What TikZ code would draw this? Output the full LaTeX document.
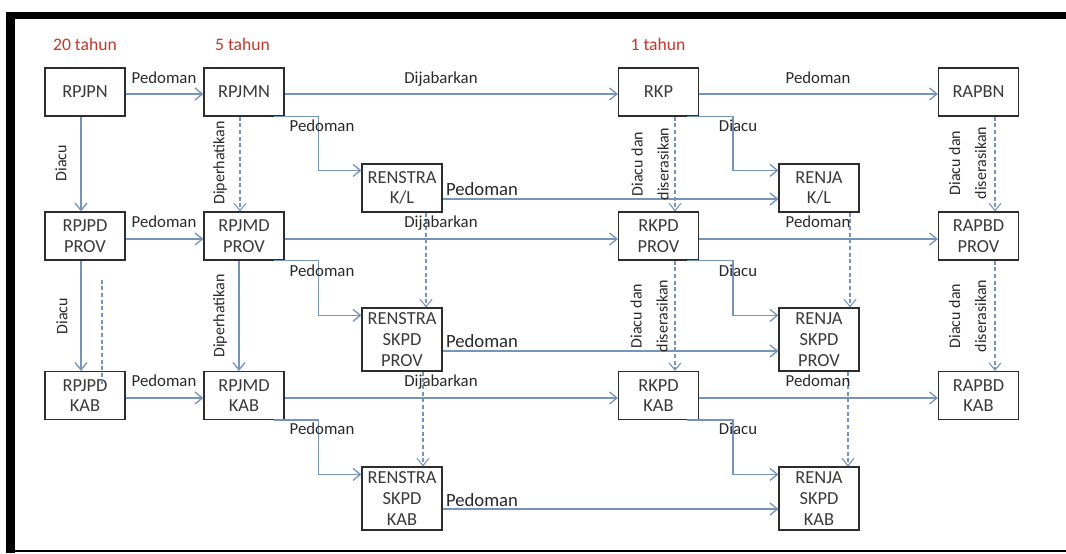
\documentclass[tikz,border=0pt]{standalone}
\usepackage{fontspec}
\setmainfont{Carlito}
\usetikzlibrary{arrows.meta,calc}
\definecolor{ln}{RGB}{118,148,184}
\definecolor{bx}{RGB}{45,45,45}
\definecolor{tx}{RGB}{58,58,58}
\definecolor{lb}{RGB}{40,40,40}
\definecolor{rd}{RGB}{192,57,43}
\begin{document}
\begin{tikzpicture}[x=0.75pt,y=-0.75pt,
 box/.style={draw=bx, line width=0.9pt, fill=white, minimum width=60pt, minimum height=36pt, inner sep=0pt, align=center, text=tx, font=\fontsize{13.8}{15.6}\selectfont},
 tall/.style={box, minimum height=47.25pt},
 conn/.style={draw=ln, line width=1pt, -{Straight Barb[length=5.5pt,width=9pt]}},
 dconn/.style={conn, dash pattern=on 3pt off 2pt, line width=0.8pt},
 lab/.style={inner sep=0pt, text=lb, font=\fontsize{12.6}{15}\selectfont},
 big/.style={lab, font=\fontsize{14}{16}\selectfont},
 rlab/.style={lab, rotate=90, align=center, font=\fontsize{12}{19.5}\selectfont},
 yr/.style={inner sep=0pt, text=rd, font=\fontsize{13.2}{15}\selectfont}]
\useasboundingbox (0,0) rectangle (1066,553);
% frame
\fill[black] (6,11.5) rectangle (1066,19);
\fill[black] (6,11.5) rectangle (14.5,553);
\fill[black] (6,550.3) rectangle (1066,552);
% period labels
\node[yr] (y20) at (85,44) {20 tahun};
\node[yr] (y5) at (242.5,44) {5 tahun};
\node[yr] (y1) at (658,44) {1 tahun};
% boxes
\node[box] (RPJPN) at (85,92) {RPJPN};
\node[box] (RPJMN) at (244,92) {RPJMN};
\node[box] (RKP) at (658.5,92) {RKP};
\node[box] (RAPBN) at (978.5,92) {RAPBN};
\node[box] (RENSTRAKL) at (402,188) {RENSTRA\\K/L};
\node[box] (RENJAKL) at (819,188) {RENJA\\K/L};
\node[box] (RPJPDPROV) at (85,236) {RPJPD\\PROV};
\node[box] (RPJMDPROV) at (244,236) {RPJMD\\PROV};
\node[box] (RKPDPROV) at (658.5,236) {RKPD\\PROV};
\node[box] (RAPBDPROV) at (978.5,236) {RAPBD\\PROV};
\node[tall] (RENSTRAPROV) at (402,339.5) {RENSTRA\\SKPD\\PROV};
\node[tall] (RENJAPROV) at (819,339.5) {RENJA\\SKPD\\PROV};
\node[box] (RPJPDKAB) at (85,395.5) {RPJPD\\KAB};
\node[box] (RPJMDKAB) at (244,395.5) {RPJMD\\KAB};
\node[box] (RKPDKAB) at (658.5,395.5) {RKPD\\KAB};
\node[box] (RAPBDKAB) at (978.5,395.5) {RAPBD\\KAB};
\node[tall] (RENSTRAKAB) at (402,498.5) {RENSTRA\\SKPD\\KAB};
\node[tall] (RENJAKAB) at (819,498.5) {RENJA\\SKPD\\KAB};
% horizontal connectors
\draw[conn] ($(RPJPN.east)+(0,2)$) -- ($(RPJMN.west)+(0,2)$);
\draw[conn] ($(RPJMN.east)+(0,2)$) -- ($(RKP.west)+(0,2)$);
\draw[conn] ($(RKP.east)+(0,2)$) -- ($(RAPBN.west)+(0,2)$);
\draw[conn] ($(RPJPDPROV.east)+(0,3)$) -- ($(RPJMDPROV.west)+(0,3)$);
\draw[conn] ($(RPJMDPROV.east)+(0,3)$) -- ($(RKPDPROV.west)+(0,3)$);
\draw[conn] ($(RKPDPROV.east)+(0,3)$) -- ($(RAPBDPROV.west)+(0,3)$);
\draw[conn] ($(RPJPDKAB.east)+(0,2.5)$) -- ($(RPJMDKAB.west)+(0,2.5)$);
\draw[conn] ($(RPJMDKAB.east)+(0,2.5)$) -- ($(RKPDKAB.west)+(0,2.5)$);
\draw[conn] ($(RKPDKAB.east)+(0,2.5)$) -- ($(RAPBDKAB.west)+(0,2.5)$);
\draw[conn] ($(RENSTRAKL.east)+(0,11)$) -- ($(RENJAKL.west)+(0,11)$);
\draw[conn] ($(RENSTRAPROV.east)+(0,11.5)$) -- ($(RENJAPROV.west)+(0,11.5)$);
\draw[conn] ($(RENSTRAKAB.east)+(0,10.5)$) -- ($(RENJAKAB.west)+(0,10.5)$);
% vertical connectors
\draw[conn] ($(RPJPN.south)+(-4,0)$) -- ($(RPJPDPROV.north)+(-4,0)$);
\draw[conn] ($(RPJPDPROV.south)+(-4,0)$) -- ($(RPJPDKAB.north)+(-4,0)$);
\draw[dconn] ($(RPJMN.south)+(-4,0)$) -- ($(RPJMDPROV.north)+(-4,0)$);
\draw[conn] ($(RPJMDPROV.south)+(-5,0)$) -- ($(RPJMDKAB.north)+(-5,0)$);
\draw[dconn] ($(RKP.south)+(16.5,0)$) -- ($(RKPDPROV.north)+(16.5,0)$);
\draw[dconn] ($(RKPDPROV.south)+(16.5,0)$) -- ($(RKPDKAB.north)+(16.5,0)$);
\draw[dconn] ($(RAPBN.south)+(16.5,0)$) -- ($(RAPBDPROV.north)+(16.5,0)$);
\draw[dconn] ($(RAPBDPROV.south)+(16.5,0)$) -- ($(RAPBDKAB.north)+(16.5,0)$);
\draw[dconn] ($(RENSTRAKL.south)+(24,0)$) -- ($(RENSTRAPROV.north)+(24,0)$);
\draw[dconn] ($(RENSTRAPROV.south)+(21,0)$) -- ($(RENSTRAKAB.north)+(21,0)$);
\draw[dconn] ($(RENJAKL.south)+(31,0)$) -- ($(RENJAPROV.north)+(31,0)$);
\draw[dconn] ($(RENJAPROV.south)+(29,0)$) -- ($(RENJAKAB.north)+(29,0)$);
\draw[draw=ln, line width=0.8pt, dash pattern=on 3pt off 2pt] ($(RPJPDPROV.south)+(17,19)$) -- ($(RPJPDKAB.north)+(17,14)$);
% elbow connectors
\draw[conn] ($(RPJMN.south east)+(-11,0)$) -- ++(45,0) |- ($(RENSTRAKL.north west)+(0,7)$);
\draw[conn] ($(RPJMDPROV.south east)+(-11,0)$) -- ++(45,0) |- ($(RENSTRAPROV.north west)+(0,8)$);
\draw[conn] ($(RPJMDKAB.south east)+(-11,0)$) -- ++(45,0) |- ($(RENSTRAKAB.north west)+(0,8)$);
\draw[conn] ($(RKP.south east)+(-12,0)$) -- ++(46,0) |- ($(RENJAKL.north west)+(0,7)$);
\draw[conn] ($(RKPDPROV.south east)+(-12,0)$) -- ++(46,0) |- ($(RENJAPROV.north west)+(0,8)$);
\draw[conn] ($(RKPDKAB.south east)+(-12,0)$) -- ++(46,0) |- ($(RENJAKAB.north west)+(0,8)$);
% labels row 1
\node[lab] (p1) at (164,78) {Pedoman};
\node[lab] (d1) at (441,79) {Dijabarkan};
\node[lab] (p2) at (818,78) {Pedoman};
\node[lab] (p3) at (322,126) {Pedoman};
\node[lab] (a1) at (738,126) {Diacu};
\node[big] (b1) at (482,189) {Pedoman};
% labels row 2
\node[lab] (p4) at (164,222) {Pedoman};
\node[lab] (d2) at (441,223) {Dijabarkan};
\node[lab] (p5) at (818,222) {Pedoman};
\node[lab] (p6) at (322,271) {Pedoman};
\node[lab] (a2) at (738,271) {Diacu};
\node[big] (b2) at (482,341) {Pedoman};
% labels row 3
\node[lab] (p7) at (164,381) {Pedoman};
\node[lab] (d3) at (441,382) {Dijabarkan};
\node[lab] (p8) at (818,381) {Pedoman};
\node[lab] (p9) at (322,429) {Pedoman};
\node[lab] (a3) at (738,429) {Diacu};
\node[big] (b3) at (482,500) {Pedoman};
% rotated labels
\node[rlab] (r1) at (61,163) {Diacu};
\node[rlab] (r2) at (62,316) {Diacu};
\node[rlab] (r3) at (220,163) {Diperhatikan};
\node[rlab] (r4) at (220,316) {Diperhatikan};
\node[rlab] (r5) at (650,164) {Diacu dan\\diserasikan};
\node[rlab] (r6) at (649,316) {Diacu dan\\diserasikan};
\node[rlab] (r7) at (967.5,163) {Diacu dan\\diserasikan};
\node[rlab] (r8) at (967.5,316) {Diacu dan\\diserasikan};
\end{tikzpicture}
\end{document}
